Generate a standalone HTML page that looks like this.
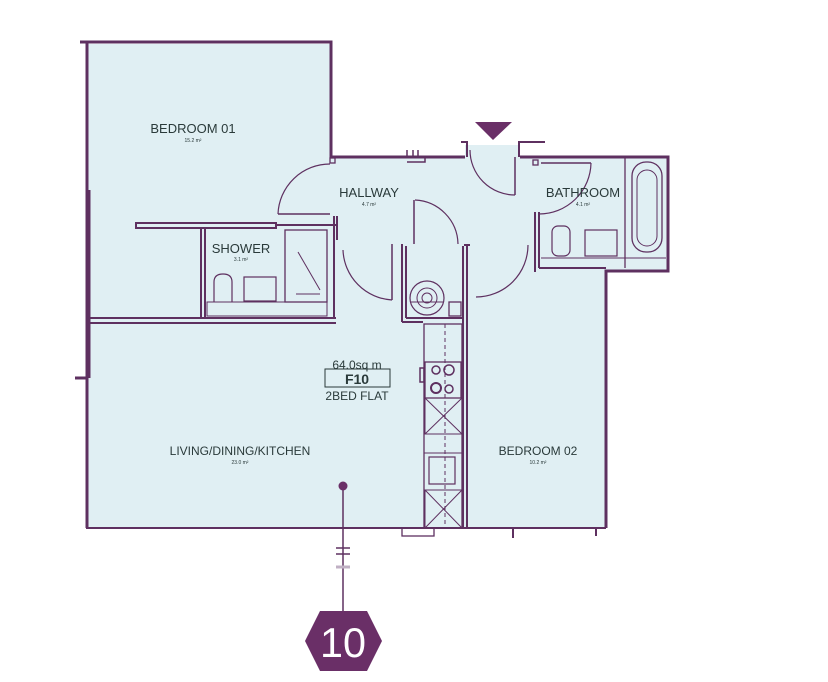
<!DOCTYPE html>
<html><head><meta charset="utf-8"><style>
html,body{margin:0;padding:0;background:#fff;width:828px;height:682px;overflow:hidden}
svg{display:block}
text{font-family:"Liberation Sans",sans-serif;fill:#2a3a3a}
</style></head><body>
<svg width="828" height="682" viewBox="0 0 828 682">
<g fill="#e0eff3" stroke="none">
<polygon points="88,44 331,44 331,157 465,157 465,145 520,145 520,157 668,157 668,270 606,270 606,527 88,527"/>
</g>
<g fill="none" stroke="#5e3060" stroke-width="3">
<!-- outer -->
<polyline points="80,42 331,42 331,157 465,157"/>
<polyline points="520,157 668,157 668,271 606,271 606,528"/>
<line x1="87" y1="42" x2="87" y2="528"/>
<line x1="86" y1="528" x2="606" y2="528" stroke-width="2"/>
<line x1="75" y1="378" x2="87" y2="378"/>
</g>
<g fill="none" stroke="#5e3060" stroke-width="2">
<!-- left wall thick section -->
<line x1="89" y1="190" x2="89" y2="378" stroke-width="3"/>
<!-- bedroom01 bottom -->
<line x1="88" y1="318" x2="336" y2="318"/>
<line x1="88" y1="323" x2="336" y2="323"/>
<!-- shower top wall -->
<rect x="136" y="223" width="140" height="5"/>
<line x1="276" y1="225" x2="336" y2="225"/>
<!-- shower walls -->
<line x1="201" y1="228" x2="201" y2="318"/>
<line x1="205" y1="228" x2="205" y2="318"/>
<line x1="334" y1="216" x2="334" y2="318"/>
<line x1="337" y1="216" x2="337" y2="240"/>
<!-- shower fittings -->
<rect x="285" y="230" width="42" height="72" stroke-width="1.3"/>
<line x1="298" y1="252" x2="320" y2="290" stroke-width="1"/>
<line x1="296" y1="294" x2="320" y2="294" stroke-width="1"/>
<rect x="207" y="302" width="120" height="14" stroke-width="1"/>
<rect x="244" y="277" width="32" height="24" stroke-width="1.2"/>
<path d="M214,302 v-20 q0,-8 9,-8 q9,0 9,8 v20" stroke-width="1.2"/>
<!-- bedroom01 door -->
<path d="M330,164 A52,52 0 0 0 278,214" stroke-width="1.2"/>
<line x1="278" y1="214" x2="330" y2="214" stroke-width="1.5"/>
<rect x="330" y="158" width="5" height="5" stroke-width="1.3"/>
<!-- shower door -->
<path d="M343,250 A52,52 0 0 0 392,300" stroke-width="1.2"/>
<line x1="392" y1="300" x2="392" y2="244" stroke-width="1.5"/>
<!-- window bits top -->
<path d="M407,150 v7 M413,150 v7 M407,162 h18 v-5 M418,150 v7" stroke-width="1.5"/>
<!-- entrance door -->
<path d="M470,150 A45,45 0 0 0 515,195" stroke-width="1.2"/>
<line x1="515" y1="195" x2="515" y2="157" stroke-width="1.5"/>
<path d="M461,142 h6 v15 M519,157 v-15 h26" stroke-width="2"/>
<!-- bathroom door -->
<path d="M591,163 A52,52 0 0 1 539,214" stroke-width="1.2"/>
<line x1="541" y1="163" x2="591" y2="163" stroke-width="1.5"/>
<rect x="533" y="160" width="5" height="5" stroke-width="1.3"/>
<!-- bathroom left wall -->
<line x1="535" y1="212" x2="535" y2="272"/>
<line x1="539" y1="212" x2="539" y2="268"/>
<line x1="539" y1="268" x2="606" y2="268"/>
<!-- bathroom fittings -->
<line x1="625" y1="157" x2="625" y2="268" stroke-width="1.3"/>
<rect x="632" y="162" width="30" height="90" rx="14" stroke-width="1.3"/>
<rect x="637" y="170" width="20" height="76" rx="10" stroke-width="1"/>
<line x1="541" y1="258" x2="666" y2="258" stroke-width="1"/>
<rect x="585" y="230" width="32" height="26" stroke-width="1.2"/>
<rect x="552" y="226" width="18" height="30" rx="6" stroke-width="1.2"/>
<!-- bedroom02 door -->
<path d="M528,245 A52,52 0 0 1 476,297" stroke-width="1.2"/>
<!-- hallway inner door -->
<path d="M415,200 A45,45 0 0 1 458,244" stroke-width="1.2"/>
<line x1="414" y1="200" x2="414" y2="244" stroke-width="1.5"/>
<!-- cupboard / kitchen column -->
<line x1="402" y1="244" x2="402" y2="322"/>
<line x1="406" y1="246" x2="406" y2="318"/>
<line x1="406" y1="318" x2="463" y2="318"/>
<line x1="402" y1="322" x2="423" y2="322"/>
<line x1="463" y1="246" x2="463" y2="528"/>
<line x1="467" y1="246" x2="467" y2="528"/>
<line x1="464" y1="245" x2="470" y2="245"/>
<rect x="449" y="302" width="12" height="14" stroke-width="1.3"/>
<circle cx="427" cy="298" r="17" stroke-width="1.2"/>
<circle cx="427" cy="298" r="10" stroke-width="1"/>
<circle cx="427" cy="298" r="5" stroke-width="1"/>
<line x1="410" y1="302" x2="444" y2="302" stroke-width="1"/>
<!-- kitchen units -->
<rect x="424" y="324" width="38" height="204" stroke-width="1.3"/>
<line x1="445" y1="324" x2="445" y2="528" stroke-width="1" stroke-dasharray="4,3"/>
<rect x="425" y="362" width="36" height="36" stroke-width="1.3"/>
<circle cx="436" cy="370" r="4" stroke-width="1.5"/>
<circle cx="449" cy="370" r="5" stroke-width="1.5"/>
<circle cx="436" cy="388" r="5" stroke-width="2"/>
<circle cx="449" cy="389" r="4" stroke-width="1.5"/>
<rect x="420" y="368" width="4" height="14" stroke-width="1.5"/>
<path d="M425,398 h37 v36 h-37 z M425,398 L462,434 M462,398 L425,434" stroke-width="1"/>
<line x1="424" y1="453" x2="462" y2="453" stroke-width="1"/>
<rect x="429" y="457" width="26" height="27" stroke-width="1.2"/>
<path d="M425,490 h37 v38 h-37 z M425,490 L462,528 M462,490 L425,528" stroke-width="1"/>
<!-- bottom stubs -->
<rect x="402" y="528" width="32" height="8" stroke-width="1.3"/>
<path d="M513,528 v10 M596,528 v8" stroke-width="2"/>
</g>
<!-- entrance triangle -->
<polygon points="475,122 512,122 493,140" fill="#6a2f67"/>
<!-- line to hexagon -->
<line x1="343" y1="486" x2="343" y2="615" stroke="#5e3060" stroke-width="1.5"/>
<circle cx="343" cy="486" r="4.5" fill="#6a2f67"/>
<path d="M336,548 h14 M336,554 h14" stroke="#5e3060" stroke-width="1.5"/>
<line x1="336" y1="567" x2="350" y2="567" stroke="#c0b0c4" stroke-width="3"/>
<polygon points="320,611 367,611 382,641 367,671 320,671 305,641" fill="#6a2f67"/>
<text x="343" y="657" font-size="42" text-anchor="middle" style="fill:#fff" textLength="46" lengthAdjust="spacingAndGlyphs">10</text>
<!-- labels -->
<text x="193" y="133" font-size="13" text-anchor="middle">BEDROOM 01</text>
<text x="193" y="142" font-size="5" text-anchor="middle">15.2 m²</text>
<text x="369" y="197" font-size="13" text-anchor="middle">HALLWAY</text>
<text x="369" y="206" font-size="5" text-anchor="middle">4.7 m²</text>
<text x="241" y="253" font-size="13" text-anchor="middle">SHOWER</text>
<text x="241" y="261" font-size="5" text-anchor="middle">3.1 m²</text>
<text x="583" y="197" font-size="13" text-anchor="middle">BATHROOM</text>
<text x="583" y="206" font-size="5" text-anchor="middle">4.1 m²</text>
<text x="357" y="369" font-size="12" text-anchor="middle">64.0sq m</text>
<rect x="325" y="369" width="65" height="18" fill="none" stroke="#2a3a3a" stroke-width="1"/>
<text x="357" y="384" font-size="14" font-weight="bold" text-anchor="middle">F10</text>
<text x="357" y="400" font-size="12" text-anchor="middle">2BED FLAT</text>
<text x="240" y="455" font-size="12" text-anchor="middle">LIVING/DINING/KITCHEN</text>
<text x="240" y="464" font-size="5" text-anchor="middle">23.0 m²</text>
<text x="538" y="455" font-size="12" text-anchor="middle">BEDROOM 02</text>
<text x="538" y="464" font-size="5" text-anchor="middle">10.2 m²</text>
</svg>
</body></html>
